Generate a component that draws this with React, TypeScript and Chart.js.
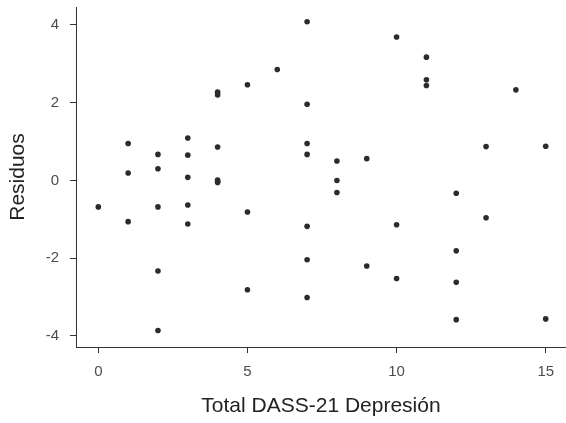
import React, { useEffect, useRef } from "react";
import { Chart, registerables } from "chart.js";

Chart.register(...registerables);

const xValues: number[] = [
  0,
  1, 1, 1,
  2, 2, 2, 2, 2,
  3, 3, 3, 3, 3,
  4, 4, 4, 4, 4, 4,
  5, 5, 5,
  6,
  7, 7, 7, 7, 7, 7, 7,
  8, 8, 8,
  9, 9,
  10, 10, 10,
  11, 11, 11,
  12, 12, 12, 12,
  13, 13,
  14,
  15, 15,
];

const residuals: number[] = [
  -0.68,
  0.95, 0.19, -1.06,
  0.67, 0.3, -0.68, -2.33, -3.86,
  1.09, 0.65, 0.08, -0.63, -1.12,
  2.27, 2.2, 0.86, 0.01, -0.05, -0.03,
  2.46, -0.81, -2.81,
  2.85,
  4.08, 1.96, 0.95, 0.67, -1.18, -2.04, -3.01,
  0.5, 0.0, -0.31,
  0.56, -2.2,
  3.69, -1.14, -2.52,
  3.17, 2.59, 2.44,
  -0.33, -1.81, -2.62, -3.58,
  0.87, -0.96,
  2.33,
  0.88, -3.56,
];

const xTicks: number[] = [0, 5, 10, 15];
const yTicks: number[] = [-4, -2, 0, 2, 4];
const xTitle = "Total DASS-21 Depresión";
const yTitle = "Residuos";

export default function App() {
  const ref = useRef<HTMLCanvasElement | null>(null);

  useEffect(() => {
    if (!ref.current) return;
    const data = xValues.map((x, i) => ({ x, y: residuals[i] }));
    const font = "'Liberation Sans', Arial, Helvetica, sans-serif";
    const axisColor = "#333333";
    const clearPad = (scale: any) => {
      scale.paddingTop = 0;
      scale.paddingBottom = 0;
      scale.paddingLeft = 0;
      scale.paddingRight = 0;
    };
    const chart = new Chart(ref.current, {
      type: "scatter",
      data: {
        datasets: [
          {
            data,
            backgroundColor: "#2b2b2b",
            borderWidth: 0,
            pointRadius: 2.8,
            pointHoverRadius: 2.8,
          },
        ],
      },
      options: {
        animation: false,
        responsive: false,
        devicePixelRatio: 1,
        layout: { autoPadding: false, padding: { top: 7, right: 0, bottom: 0, left: 0 } },
        plugins: {
          legend: { display: false },
          tooltip: { enabled: false },
        },
        scales: {
          x: {
            type: "linear",
            min: -0.748,
            max: 15.68,
            afterBuildTicks: (scale: any) => {
              scale.ticks = xTicks.map((v) => ({ value: v }));
            },
            afterFit: (scale: any) => {
              scale.height = 76;
              clearPad(scale);
            },
            ticks: {
              padding: 10,
              color: "#4d4d4d",
              font: { family: font, size: 15 },
              callback: (v: any) => String(v),
            },
            grid: {
              display: true,
              drawOnChartArea: false,
              drawTicks: true,
              tickLength: 6,
              color: axisColor,
              lineWidth: 1,
            },
            border: { display: true, color: axisColor, width: 1 },
            title: {
              display: true,
              text: xTitle,
              color: "#222222",
              font: { family: font, size: 21 },
              padding: { top: 0, bottom: 4 },
            },
          },
          y: {
            type: "linear",
            min: -4.283,
            max: 4.46,
            afterBuildTicks: (scale: any) => {
              scale.ticks = yTicks.map((v) => ({ value: v }));
            },
            afterFit: (scale: any) => {
              scale.width = 76;
              clearPad(scale);
            },
            ticks: {
              padding: 11,
              color: "#4d4d4d",
              font: { family: font, size: 15 },
              callback: (v: any) => String(v),
            },
            grid: {
              display: true,
              drawOnChartArea: false,
              drawTicks: true,
              tickLength: 6,
              color: axisColor,
              lineWidth: 1,
            },
            border: { display: true, color: axisColor, width: 1 },
            title: {
              display: true,
              text: yTitle,
              color: "#222222",
              font: { family: font, size: 21 },
              padding: { top: 6, bottom: 0 },
            },
          },
        },
      },
    });
    return () => chart.destroy();
  }, []);

  return (
    <div style={{ position: "fixed", left: 0, top: 0, width: 566, height: 423, background: "#ffffff" }}>
      <canvas ref={ref} width={566} height={423} style={{ display: "block" }} />
    </div>
  );
}
